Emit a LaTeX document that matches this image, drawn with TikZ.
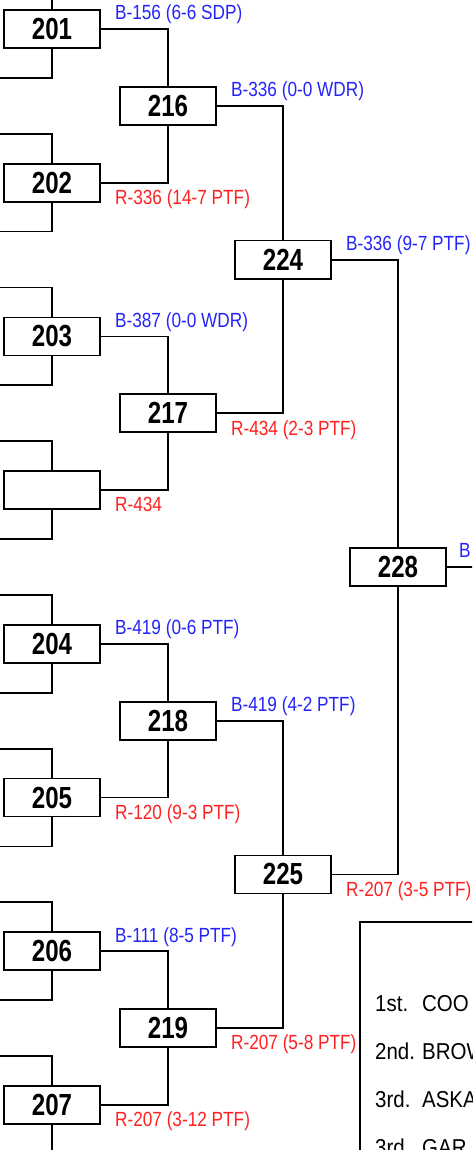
\documentclass[tikz,border=0pt]{standalone}
\usepackage{fontspec}
\setmainfont{Liberation Sans}[FakeStretch=0.84]
\newfontfamily\boxfont{Liberation Sans Bold}[FakeStretch=0.79]
\newfontfamily\legendfont{Liberation Sans}[FakeStretch=0.89]
\usepackage{xcolor}
\usepackage{tikz}
\usetikzlibrary{positioning}
\definecolor{WinBlue}{RGB}{36,36,250}
\definecolor{LossRed}{RGB}{255,32,32}

\begin{document}
\begin{tikzpicture}[x=1pt, y=-1pt,
	match/.style={draw, line width=1.8pt, minimum width=96pt, minimum height=38pt, inner sep=0pt, font=\boxfont\fontsize{30.5}{30.5}\selectfont},
	link/.style={line width=1.8pt},
	winner/.style={anchor=west, inner sep=0pt, text height=15pt, text depth=4pt, text=WinBlue, font=\fontsize{20.5}{20.5}\selectfont},
	loser/.style={anchor=west, inner sep=0pt, text height=15pt, text depth=4pt, text=LossRed, font=\fontsize{20.5}{20.5}\selectfont},
	place/.style={anchor=west, inner sep=0pt, font=\legendfont\fontsize{23}{23}\selectfont}]
	\useasboundingbox (0,0) rectangle (472,1150);
	\clip (0,0) rectangle (472,1150);
	% first round
	\node[match] (n201) at (52,29) {201};
	\node[match] (n202) at (52,182.7) {202};
	\node[match] (n203) at (52,336.4) {203};
	\node[match] (nbye) at (52,490.1) {};
	\node[match] (n204) at (52,643.8) {204};
	\node[match] (n205) at (52,797.5) {205};
	\node[match] (n206) at (52,951.2) {206};
	\node[match] (n207) at (52,1104.9) {207};
	\foreach \m in {n201,n202,n203,nbye,n204,n205,n206,n207} {
		\draw[link] (\m.north) |- ++(-60,-29);
		\draw[link] (\m.south) |- ++(-60,29);
	}
	% second round
	\node[match] (n216) at (168,105.9) {216};
	\node[match] (n217) at (168,413.3) {217};
	\node[match] (n218) at (168,720.7) {218};
	\node[match] (n219) at (168,1028.1) {219};
	\draw[link] (n201.east) -| (n216.north);
	\draw[link] (n202.east) -| (n216.south);
	\draw[link] (n203.east) -| (n217.north);
	\draw[link] (nbye.east) -| (n217.south);
	\draw[link] (n204.east) -| (n218.north);
	\draw[link] (n205.east) -| (n218.south);
	\draw[link] (n206.east) -| (n219.north);
	\draw[link] (n207.east) -| (n219.south);
	\node[winner] (w201) at ([xshift=14pt,yshift=14.7pt]n201.east) {B-156 (6-6 SDP)};
	\node[loser] (l202) at ([xshift=14pt,yshift=-16.3pt]n202.east) {R-336 (14-7 PTF)};
	\node[winner] (w203) at ([xshift=14pt,yshift=14.7pt]n203.east) {B-387 (0-0 WDR)};
	\node[loser] (lbye) at ([xshift=14pt,yshift=-16.3pt]nbye.east) {R-434};
	\node[winner] (w204) at ([xshift=14pt,yshift=14.7pt]n204.east) {B-419 (0-6 PTF)};
	\node[loser] (l205) at ([xshift=14pt,yshift=-16.3pt]n205.east) {R-120 (9-3 PTF)};
	\node[winner] (w206) at ([xshift=14pt,yshift=14.7pt]n206.east) {B-111 (8-5 PTF)};
	\node[loser] (l207) at ([xshift=14pt,yshift=-16.3pt]n207.east) {R-207 (3-12 PTF)};
	% third round
	\node[match] (n224) at (283,259.6) {224};
	\node[match] (n225) at (283,874.4) {225};
	\draw[link] (n216.east) -| (n224.north);
	\draw[link] (n217.east) -| (n224.south);
	\draw[link] (n218.east) -| (n225.north);
	\draw[link] (n219.east) -| (n225.south);
	\node[winner] (w216) at ([xshift=14pt,yshift=14.7pt]n216.east) {B-336 (0-0 WDR)};
	\node[loser] (l217) at ([xshift=14pt,yshift=-16.3pt]n217.east) {R-434 (2-3 PTF)};
	\node[winner] (w218) at ([xshift=14pt,yshift=14.7pt]n218.east) {B-419 (4-2 PTF)};
	\node[loser] (l219) at ([xshift=14pt,yshift=-16.3pt]n219.east) {R-207 (5-8 PTF)};
	% final
	\node[match] (n228) at (398,567) {228};
	\draw[link] (n224.east) -| (n228.north);
	\draw[link] (n225.east) -| (n228.south);
	\node[winner] (w224) at ([xshift=14pt,yshift=14.7pt]n224.east) {B-336 (9-7 PTF)};
	\node[loser] (l225) at ([xshift=14pt,yshift=-16.3pt]n225.east) {R-207 (3-5 PTF)};
	\coordinate (out228) at (490,567);
	\draw[link] (n228.east) -- (out228);
	\node[winner] (w228) at ([xshift=12pt,yshift=14.7pt]n228.east) {B};
	% standings
	\draw[line width=2.2pt] (490,922) -| (360,1170);
	\node[place] (p1) at (375,1003.5) {\makebox[47pt][l]{1st.}COO};
	\node[place] (p2) at (375,1051) {\makebox[47pt][l]{2nd.}BROW};
	\node[place] (p3) at (375,1099) {\makebox[47pt][l]{3rd.}ASKA};
	\node[place] (p4) at (375,1147) {\makebox[47pt][l]{3rd.}GAR};
\end{tikzpicture}
\end{document}
